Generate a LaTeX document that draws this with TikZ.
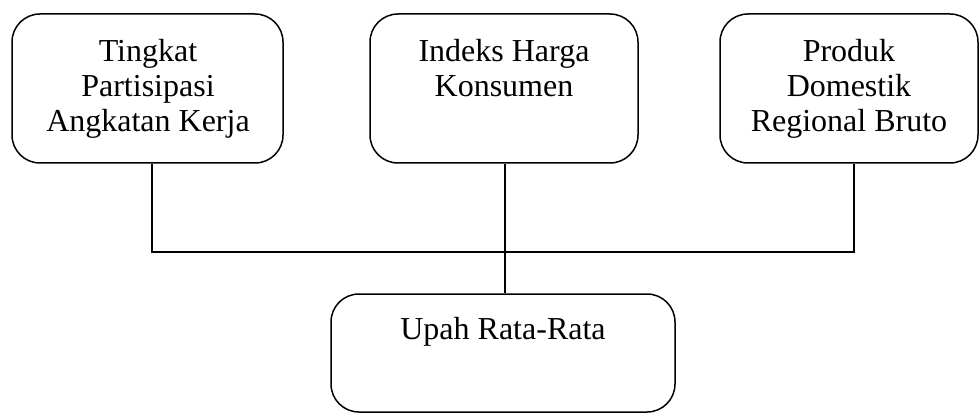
\documentclass[tikz,border=0pt]{standalone}
\usepackage{fontspec}
\setmainfont{Liberation Serif}
\begin{document}
\begin{tikzpicture}[x=1pt,y=1pt,
  boxstyle/.style={draw, line width=1.5pt, rounded corners=28pt, inner sep=0pt},
  labelstyle/.style={anchor=north, inner sep=0pt, align=center, font=\fontsize{32}{35}\selectfont},
  linkstyle/.style={line width=1.4pt}]
\useasboundingbox (0,0) rectangle (980,413);
% boxes
\node[boxstyle, minimum width=271pt, minimum height=149pt] (b1) at (147.5,324.5) {};
\node[boxstyle, minimum width=268pt, minimum height=149pt] (b2) at (504,324.5) {};
\node[boxstyle, minimum width=258pt, minimum height=149pt] (b3) at (849,324.5) {};
\node[boxstyle, minimum width=344pt, minimum height=118pt] (b4) at (503,60) {};
% texts
\node[labelstyle] (t1) at (148,373.5) {Tingkat\\Partisipasi\\Angkatan Kerja};
\node[labelstyle] (t2) at (504,373.5) {Indeks Harga\\Konsumen};
\node[labelstyle] (t3) at (849,373.5) {Produk\\Domestik\\Regional Bruto};
\node[labelstyle] (t4) at (503,95.5) {Upah Rata-Rata};
% connectors
\coordinate (j1) at (152,161);
\coordinate (j2) at (505,161);
\coordinate (j3) at (854,161);
\draw[linkstyle] (b1.south -| j1) -- (j1) -- (j3) -- (b3.south -| j3);
\draw[linkstyle] (b2.south -| j2) -- (b4.north -| j2);
\end{tikzpicture}
\end{document}
